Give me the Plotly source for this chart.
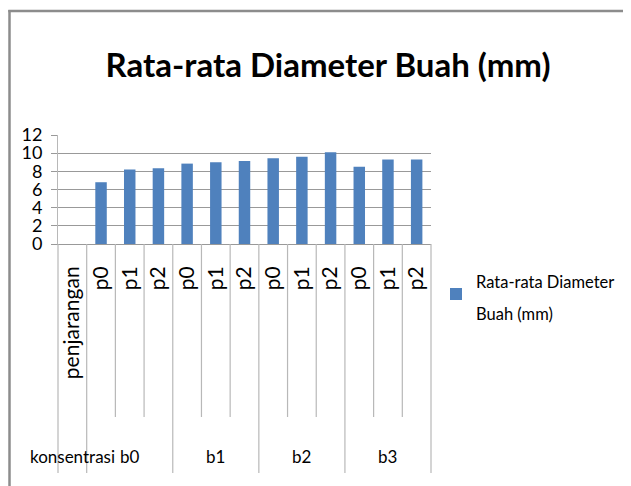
import plotly.graph_objects as go

# ---- data ----
group_labels = ["konsentrasi", "b0", "b1", "b2", "b3"]
group_sizes = [1, 3, 3, 3, 3]
sub_labels = ["penjarangan", "p0", "p1", "p2", "p0", "p1", "p2",
              "p0", "p1", "p2", "p0", "p1", "p2"]
values = [None, 6.8, 8.2, 8.35, 8.85, 9.0, 9.15, 9.45, 9.6, 10.1, 8.5, 9.3, 9.3]
series_name = "Rata-rata Diameter Buah (mm)"
y_ticks = [0, 2, 4, 6, 8, 10, 12]

# unique category keys built from group/sub labels
keys = []
idx = 0
for g, s in zip(group_labels, group_sizes):
    for j in range(s):
        keys.append(g + " " + sub_labels[idx])
        idx += 1

FONT = "Lato, sans-serif"
OFF = 8  # page body margin
W, H = 631 - OFF, 486 - OFF
L, T = 58 - OFF, 135 - OFF
R = W - (431 - OFF)
B = H - (244 - OFF)
pw, ph = W - L - R, H - T - B

def px_x(p):
    return (p - OFF - L) / pw

def px_y(p):
    return (H - B - (p - OFF)) / ph

fig = go.Figure()
fig.add_trace(go.Bar(
    x=keys, y=values, name=series_name,
    marker=dict(color="#4F81BD", line=dict(width=0)),
    showlegend=True,
))

n = len(keys)
shapes = []
boundaries = {0}
c = 0
for s in group_sizes:
    c += s
    boundaries.add(c)
for k in range(n + 1):
    long_ = k in boundaries
    shapes.append(dict(type="line", xref="paper", yref="paper",
                       x0=k / n, x1=k / n, y0=0,
                       y1=px_y(473) if long_ else px_y(417),
                       line=dict(color="#b8b8b8", width=1.2)))
# chart frame (top and left borders)
shapes.append(dict(type="line", xref="paper", yref="paper",
                   x0=px_x(9.5), x1=px_x(9.5), y0=px_y(10), y1=px_y(490),
                   line=dict(color="#8c8c8c", width=2.5)))
shapes.append(dict(type="line", xref="paper", yref="paper",
                   x0=px_x(8.3), x1=px_x(640), y0=px_y(11), y1=px_y(11),
                   line=dict(color="#8c8c8c", width=2.5)))

annotations = []
c = 0
for g, s in zip(group_labels, group_sizes):
    if c == 0:
        annotations.append(dict(text=g, xref="paper", yref="paper",
                                 x=c / n, y=px_y(456), xanchor="left", yanchor="middle",
                                 xshift=-30, showarrow=False,
                                 font=dict(family=FONT, size=17, color="#000")))
    else:
        annotations.append(dict(text=g, xref="paper", yref="paper",
                                 x=(c + s / 2) / n, y=px_y(456), xanchor="center", yanchor="middle",
                                 showarrow=False,
                                 font=dict(family=FONT, size=17, color="#000")))
    c += s

fig.update_layout(
    width=W, height=H,
    margin=dict(l=L, r=R, t=T, b=B, autoexpand=False),
    paper_bgcolor="white", plot_bgcolor="white",
    title=dict(text="<b>" + series_name + "</b>", x=(328 - OFF) / W, y=1 - (65 - OFF) / H,
               xanchor="center", yanchor="middle", xref="container", yref="container",
               font=dict(family=FONT, size=33, color="#000")),
    bargap=0.6,
    showlegend=True,
    legend=dict(x=px_x(436), y=px_y(255), xanchor="left", yanchor="top",
                font=dict(family=FONT, size=25, color="#000"),
                itemwidth=30, bgcolor="rgba(0,0,0,0)"),
    shapes=shapes, annotations=annotations,
)
fig.data[0].name = ('<span style="font-size:16.5px">Rata-rata Diameter</span><br>'
                    '<span style="font-size:16.5px">Buah (mm)</span>')

fig.update_xaxes(
    type="category", tickvals=keys, ticktext=sub_labels, tickangle=-90,
    range=[-0.5, n - 0.5], showgrid=False, ticks="",
    showline=True, linecolor="#999999", linewidth=1,
    tickfont=dict(family=FONT, size=21, color="#000"),
    ticklabelstandoff=13,
)
fig.update_yaxes(
    range=[0, 12], tickvals=y_ticks, showgrid=True, gridcolor="#999999", gridwidth=1,
    ticks="outside", ticklen=6, tickcolor="#999999",
    showline=True, linecolor="#b8b8b8", linewidth=1, zeroline=False,
    tickfont=dict(family=FONT, size=18, color="#000"),
    ticklabelstandoff=5,
)

fig.write_html("out.html")
